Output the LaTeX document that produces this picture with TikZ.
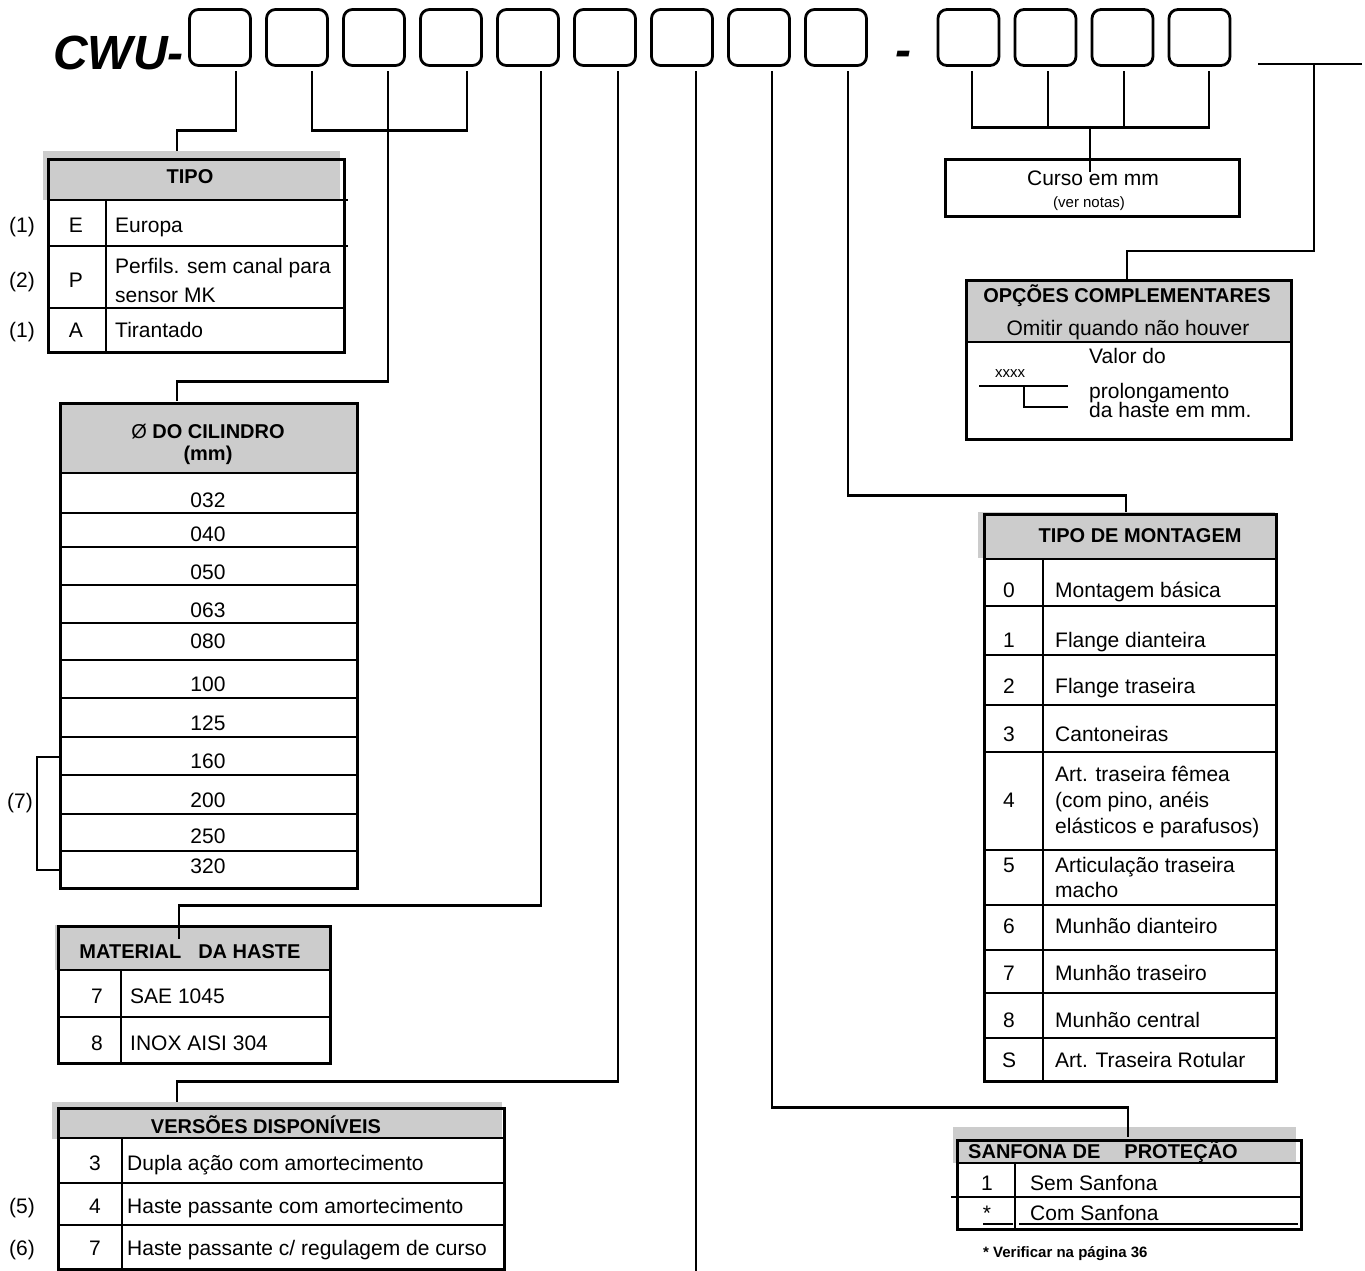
\documentclass[tikz,border=0pt]{standalone}
\usepackage{fontspec}
\setmainfont{Liberation Sans}
\begin{document}
\begin{tikzpicture}[x=1pt,y=-1pt,
  cell/.style={inner sep=0pt, font=\fontsize{21}{25}\selectfont},
  hdr/.style={inner sep=0pt, font=\bfseries\fontsize{20}{24}\selectfont},
  small/.style={inner sep=0pt, font=\fontsize{15}{18}\selectfont},
  smallb/.style={inner sep=0pt, font=\bfseries\fontsize{15}{18}\selectfont},
  title/.style={inner sep=0pt, font=\bfseries\itshape\fontsize{48}{56}\selectfont},
  codebox/.style={draw, line width=2.8pt, rounded corners=9pt, minimum width=61pt, minimum height=56pt, inner sep=0pt},
  frame/.style={draw, line width=2.8pt, inner sep=0pt, anchor=north west},
  rule/.style={line width=2.5pt},
  conn/.style={line width=2.3pt},
  shade/.style={fill=black!20}]
\useasboundingbox (0,0) rectangle (1365,1271);

% ---------- code line ----------
\node[title, anchor=base west] (cwu) at (53,70) {CWU-};
\foreach \i in {1,...,9} \node[codebox] (b\i) at ({220+77*(\i-1)},37.5) {};
\node[title, anchor=base west] (dash) at (895,67) {-};
\foreach \i in {1,...,4} \node[codebox] (c\i) at ({968.5+77*(\i-1)},37.5) {};
\coordinate (usl) at (1258,64);
\coordinate (usr) at (1362,64);
\coordinate (usm) at (1314,64);

% ---------- connector targets ----------
\coordinate (tipo-in) at (177,151);
\coordinate (cil-in) at (177,401);
\coordinate (mat-in) at (179,939);
\coordinate (ver-in) at (177,1102);
\coordinate (mon-in) at (1126,512);
\coordinate (san-in) at (1128,1137);
\coordinate (curso-in) at (1090,172);
\coordinate (cj) at (1090,126);
\coordinate (opc-in) at (1127,279);
\coordinate (b7-end) at (696,1271);

% ---------- TIPO ----------
\fill[shade] (43,151) rectangle (340,200);
\node[frame, minimum width=296pt, minimum height=193pt] (tipo) at (47,158) {};
\draw[rule] (47,200) -- (348,200) (47,246) -- (348,246) (47,308) -- (343,308) (106,200) -- (106,351);
\node[hdr, anchor=base] (tipoh) at (190,183) {TIPO};
\node[cell, anchor=base] (l1) at (22,232) {(1)};
\node[cell, anchor=base] (tE) at (76,232) {E};
\node[cell, anchor=base west] (tEt) at (115,232) {Europa};
\node[cell, anchor=base] (l2) at (22,287) {(2)};
\node[cell, anchor=base] (tP) at (76,287) {P};
\node[cell, anchor=base west] (tPt1) at (115,273) {Perfils. sem canal para};
\node[cell, anchor=base west] (tPt2) at (115,302) {sensor MK};
\node[cell, anchor=base] (l3) at (22,337) {(1)};
\node[cell, anchor=base] (tA) at (76,337) {A};
\node[cell, anchor=base west] (tAt) at (115,337) {Tirantado};

% ---------- DIAMETRO ----------
\fill[shade] (59,402) rectangle (356,473);
\node[frame, minimum width=297pt, minimum height=485pt] (cil) at (59,402) {};
\foreach \yy in {473,513,547,585,623,660,698,737,775,814,851} \draw[rule] (59,\yy) -- (356,\yy);
\node[hdr, anchor=base] (cilh1) at (208,438) {{\mdseries Ø} DO CILINDRO};
\node[hdr, anchor=base] (cilh2) at (208,460) {(mm)};
\foreach \v/\yy in {032/507,040/541,050/579,063/617,080/648,100/691,125/730,160/768,200/807,250/843,320/873}
  \node[cell, anchor=base] (d\v) at (208,\yy) {\v};
\draw[conn] (59,757) -- (37,757) -- (37,870) -- (59,870);
\node[cell, anchor=base] (l7) at (20,808) {(7)};

% ---------- MATERIAL ----------
\fill[shade] (55,925) rectangle (329,970);
\node[frame, minimum width=272pt, minimum height=137pt] (mat) at (57,925) {};
\draw[rule] (57,970) -- (329,970) (57,1017) -- (329,1017) (121,970) -- (121,1062);
\node[hdr, anchor=base] (math) at (190,958) {MATERIAL\hspace{17pt}DA HASTE};
\node[cell, anchor=base] (m7) at (97,1003) {7};
\node[cell, anchor=base west] (m7t) at (130,1003) {SAE 1045};
\node[cell, anchor=base] (m8) at (97,1050) {8};
\node[cell, anchor=base west] (m8t) at (130,1050) {INOX AISI 304};

% ---------- VERSOES ----------
\fill[shade] (52,1102) rectangle (502,1139);
\node[frame, minimum width=446pt, minimum height=161pt] (ver) at (57,1107) {};
\draw[rule] (57,1138) -- (503,1138) (57,1183) -- (503,1183) (57,1225) -- (503,1225) (122,1138) -- (122,1268);
\node[hdr, anchor=base] (verh) at (266,1133) {VERSÕES DISPONÍVEIS};
\node[cell, anchor=base] (v3) at (95,1170) {3};
\node[cell, anchor=base west] (v3t) at (127,1170) {Dupla ação com amortecimento};
\node[cell, anchor=base] (l5) at (22,1213) {(5)};
\node[cell, anchor=base] (v4) at (95,1213) {4};
\node[cell, anchor=base west] (v4t) at (127,1213) {Haste passante com amortecimento};
\node[cell, anchor=base] (l6) at (22,1255) {(6)};
\node[cell, anchor=base] (v7) at (95,1255) {7};
\node[cell, anchor=base west] (v7t) at (127,1255) {Haste passante c/ regulagem de curso};

% ---------- CURSO ----------
\node[frame, minimum width=294pt, minimum height=57pt] (curso) at (944,158) {};
\node[cell, anchor=base] (cursot) at (1093,185) {Curso em mm};
\node[small, anchor=base] (cursos) at (1089,207) {(ver notas)};

% ---------- OPCOES ----------
\fill[shade] (965,279) rectangle (1290,342);
\node[frame, minimum width=325pt, minimum height=159pt] (opc) at (965,279) {};
\draw[rule] (965,342) -- (1292,342);
\node[hdr, anchor=base] (opch) at (1127,302) {OPÇÕES COMPLEMENTARES};
\node[cell, anchor=base] (opcs) at (1128,335) {Omitir quando não houver};
\node[cell, anchor=base west] (opv1) at (1089,363) {Valor do};
\node[small, anchor=base west] (opx) at (995,377) {xxxx};
\node[cell, anchor=base west] (opv2) at (1089,398) {prolongamento};
\node[cell, anchor=base west] (opv3) at (1089,417) {da haste em mm.};
\coordinate (xl) at (979,386);
\coordinate (xr) at (1068,386);
\coordinate (xb) at (1024,386);
\coordinate (xe) at (1068,407);
\draw[conn] (xl) -- (xr);
\draw[conn] (xb) |- (xe);

% ---------- TIPO DE MONTAGEM ----------
\fill[shade] (978,512) rectangle (1275,558);
\node[frame, minimum width=292pt, minimum height=567pt] (mon) at (983,513) {};
\foreach \yy in {559,606,655,705,752,850,905,950,993,1038} \draw[rule] (983,\yy) -- (1275,\yy);
\draw[rule] (1043,559) -- (1043,1080);
\node[hdr, anchor=base] (monh) at (1140,542) {TIPO DE MONTAGEM};
\foreach \n/\k/\yy/\t in {0/0/597/Montagem básica, 1/1/647/Flange dianteira, 2/2/693/Flange traseira, 3/3/741/Cantoneiras, 6/6/933/Munhão dianteiro, 7/7/980/Munhão traseiro, 8/8/1027/Munhão central, S/S/1067/Art. Traseira Rotular}{
  \node[cell, anchor=base] (mn\n) at (1009,\yy) {\k};
  \node[cell, anchor=base west] (mt\n) at (1055,\yy) {\t};
}
\node[cell, anchor=base] (mn4) at (1009,807) {4};
\node[cell, anchor=base west] (mt4a) at (1055,781) {Art. traseira fêmea};
\node[cell, anchor=base west] (mt4b) at (1055,807) {(com pino, anéis};
\node[cell, anchor=base west] (mt4c) at (1055,833) {elásticos e parafusos)};
\node[cell, anchor=base] (mn5) at (1009,872) {5};
\node[cell, anchor=base west] (mt5a) at (1055,872) {Articulação traseira};
\node[cell, anchor=base west] (mt5b) at (1055,897) {macho};

% ---------- SANFONA ----------
\fill[shade] (953,1127) rectangle (1296,1163);
\node[frame, minimum width=344pt, minimum height=89pt] (san) at (956,1139) {};
\draw[rule] (956,1163) -- (1300,1163) (951,1197) -- (1303,1197) (1015,1163) -- (1015,1228);
\draw[line width=1.5pt] (983,1224) -- (1013,1224) (1019,1224) -- (1298,1224);
\node[hdr, anchor=base] (sanh) at (1103,1158) {SANFONA DE\hspace{24pt}PROTEÇÃO};
\node[cell, anchor=base] (s1) at (987,1190) {1};
\node[cell, anchor=base west] (s1t) at (1030,1190) {Sem Sanfona};
\node[cell, anchor=base] (s2) at (987,1220) {*};
\node[cell, anchor=base west] (s2t) at (1030,1220) {Com Sanfona};
\node[smallb, anchor=base west] (note) at (983,1257) {* Verificar na página 36};

% ---------- connectors ----------
\draw[conn] ([xshift=16pt,yshift=-4.5pt]b1.south) -- ++(0,59) -| (tipo-in);
\draw[conn] ([xshift=15pt,yshift=-4.5pt]b2.south) -- ++(0,59) -| ([xshift=16pt,yshift=-4.5pt]b4.south);
\draw[conn] ([xshift=14pt,yshift=-4.5pt]b3.south) -- ++(0,310) -| (cil-in);
\draw[conn] ([xshift=13pt,yshift=-4.5pt]b5.south) -- ++(0,834) -| (mat-in);
\draw[conn] ([xshift=13pt,yshift=-4.5pt]b6.south) -- ++(0,1010) -| (ver-in);
\draw[conn] ([xshift=14pt,yshift=-4.5pt]b7.south) -- (b7-end);
\draw[conn] ([xshift=13pt,yshift=-4.5pt]b8.south) -- ++(0,1036) -| (san-in);
\draw[conn] ([xshift=12pt,yshift=-4.5pt]b9.south) -- ++(0,424) -| (mon-in);
\draw[conn] ([xshift=3.5pt,yshift=-4.5pt]c1.south) -- ++(0,56) -| ([xshift=9.5pt,yshift=-4.5pt]c4.south);
\draw[conn] ([xshift=2.5pt,yshift=-4.5pt]c2.south) -- ++(0,56);
\draw[conn] ([xshift=1.5pt,yshift=-4.5pt]c3.south) -- ++(0,56);
\draw[conn] (cj) -- (curso-in);
\draw[conn] (usl) -- (usr);
\draw[conn] (usm) -- ++(0,187) -| (opc-in);
\end{tikzpicture}
\end{document}
